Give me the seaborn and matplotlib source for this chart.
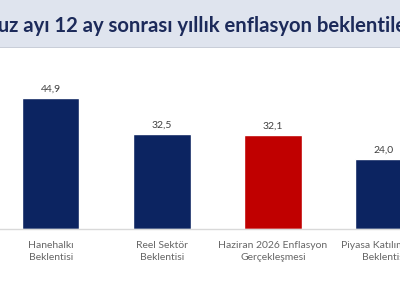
import matplotlib
matplotlib.use("Agg")
import seaborn as sns
import matplotlib.pyplot as plt
import pandas as pd
from matplotlib.patches import Rectangle

# data
categories = ["Hanehalkı\nBeklentisi", "Reel Sektör\nBeklentisi",
              "Haziran 2026 Enflasyon\nGerçekleşmesi", "Piyasa Katılımcıları\nBeklentisi"]
values = [44.9, 32.5, 32.1, 24.0]
colors = ["#0c2461", "#0c2461", "#c00000", "#0c2461"]
title = "Temmuz ayı 12 ay sonrası yıllık enflasyon beklentileri"

sns.set_style("white")
plt.rcParams['font.family'] = ['Lato', 'DejaVu Sans']

fig = plt.figure(figsize=(4, 3), dpi=100)
fig.patch.set_facecolor("white")

# title band
fig.patches.append(Rectangle((0, 253/300), 1, 47/300, transform=fig.transFigure,
                             facecolor="#dfe4ee", edgecolor="none", zorder=0))
fig.patches.append(Rectangle((0, 252/300), 1, 1.5/300, transform=fig.transFigure,
                             facecolor="#c9ced8", edgecolor="none", zorder=0))
fig.text(-0.148, 1 - 32/300, title, fontsize=14.6, fontweight="bold", color="#1c2a5a",
         ha="left", va="baseline")

ax = fig.add_axes([0, 71/300, 1, 179/300])
ax.set_facecolor("none")
df = pd.DataFrame({"cat": categories, "val": values})
sns.barplot(data=df, x="cat", y="val", hue="cat", palette=colors, width=0.514,
            saturation=1, legend=False, ax=ax)

for cont in ax.containers:
    ax.bar_label(cont, labels=[f"{v:.1f}".replace(".", ",") for v in cont.datavalues],
                 fontsize=7.5, color="#404040", padding=3)

ax.set_xlim(-0.459, 3.144)
ax.set_ylim(0, 61.3)
ax.set_xlabel("")
ax.set_ylabel("")
ax.set_yticks([])
ax.tick_params(axis="x", length=0, pad=9, labelsize=7.5, labelcolor="#666666")
for lab in ax.get_xticklabels():
    lab.set_linespacing(1.3)
for s in ["top", "left", "right"]:
    ax.spines[s].set_visible(False)
ax.spines["bottom"].set_color("#d9d9d9")
ax.spines["bottom"].set_linewidth(1)

plt.savefig("out.png", dpi=100)
